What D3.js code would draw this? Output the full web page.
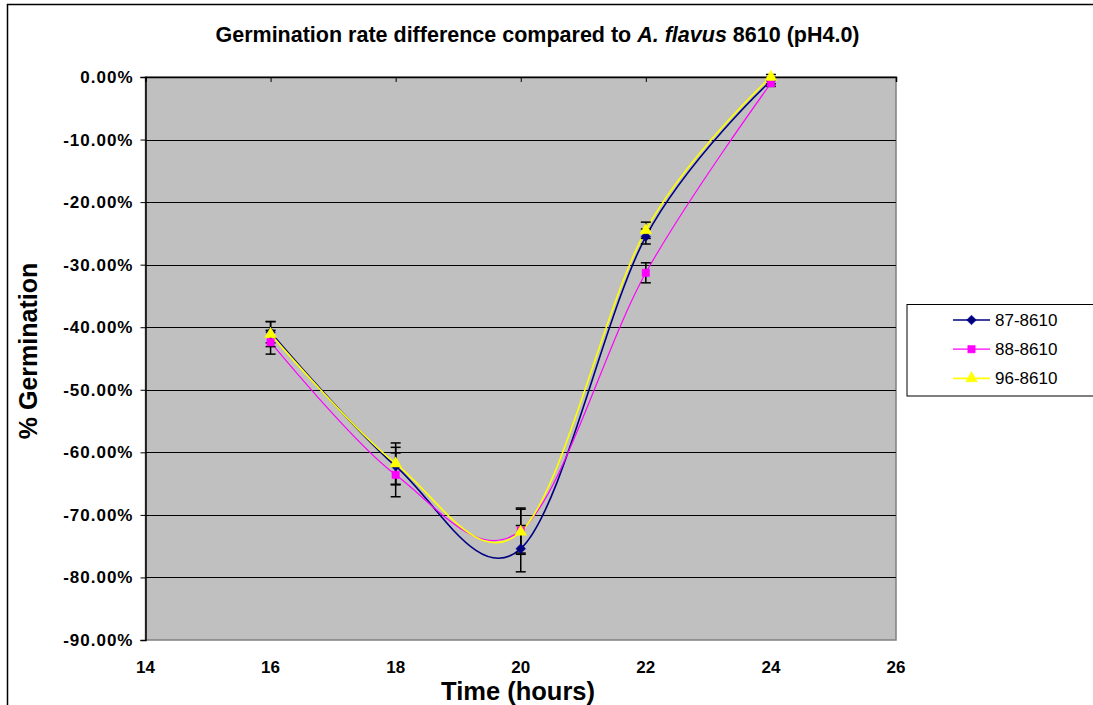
<!DOCTYPE html>
<html>
<head>
<meta charset="utf-8">
<script src="https://cdn.jsdelivr.net/npm/d3@7"></script>
<style>
  html, body { margin: 0; padding: 0; background: #fff; }
  svg { display: block; font-family: "Liberation Sans", Arial, sans-serif; }
</style>
</head>
<body>
<svg id="chart" width="1093" height="705"></svg>
<script>
// Sampling times (hours)
const hours = [16, 18, 20, 22, 24];

// Germination rate difference vs. 8610, in percent
const s87 = [-40.8, -62.2, -75.4, -25.5, -0.6];
const s88 = [-42.4, -63.6, -72.5, -31.3, -1.0];
const s96 = [-41.1, -61.8, -72.7, -24.5, 0.0];

// Error bar half-widths, in percent
const e87 = [1.7, 3.0, 3.7, 1.2, 0.5];
const e88 = [1.9, 3.5, 3.6, 1.6, 0.5];
const e96 = [2.0, 3.3, 3.6, 1.3, 0.4];

const seriesNames = ["87-8610", "88-8610", "96-8610"];
const xTicks = [14, 16, 18, 20, 22, 24, 26];
const yTicks = [0, -10, -20, -30, -40, -50, -60, -70, -80, -90];

const series = [
  { name: seriesNames[0], values: s87, errors: e87, color: "#000080", marker: "diamond", width: 1.6 },
  { name: seriesNames[1], values: s88, errors: e88, color: "#FF00FF", marker: "square", width: 1.2 },
  { name: seriesNames[2], values: s96, errors: e96, color: "#FFFF00", marker: "triangle", width: 1.6 }
];

const svg = d3.select("#chart");

// Outer chart frame
svg.append("rect")
  .attr("x", 7.5).attr("y", 4.5)
  .attr("width", 1200).attr("height", 800)
  .attr("fill", "#fff").attr("stroke", "#000").attr("stroke-width", 1.5);

const plot = { left: 145.5, top: 77, right: 896, bottom: 640 };

const x = d3.scaleLinear().domain([14, 26]).range([plot.left, plot.right]);
const y = d3.scaleLinear().domain([0, -90]).range([plot.top, plot.bottom]);

// Plot background
svg.append("rect")
  .attr("x", plot.left).attr("y", plot.top)
  .attr("width", plot.right - plot.left).attr("height", plot.bottom - plot.top)
  .attr("fill", "#C0C0C0").attr("stroke", "#808080").attr("stroke-width", 1.5);

// Horizontal gridlines
svg.append("g")
  .selectAll("line")
  .data(yTicks.filter(d => d !== 0 && d !== -90))
  .join("line")
  .attr("x1", plot.left).attr("x2", plot.right)
  .attr("y1", d => Math.round(y(d)) + 0.5).attr("y2", d => Math.round(y(d)) + 0.5)
  .attr("stroke", "#000").attr("stroke-width", 1);

// Y axis
const yAxis = svg.append("g")
  .attr("transform", `translate(${plot.left},0)`)
  .call(d3.axisLeft(y).tickValues(yTicks).tickSize(5).tickPadding(7)
    .tickFormat(d => (d < 0 ? "-" : "") + d3.format(".2f")(Math.abs(d)) + "%"));
yAxis.select(".domain").attr("stroke", "#000").attr("stroke-width", 1.5);
yAxis.selectAll(".tick line").attr("stroke", "#000");
yAxis.selectAll("text")
  .attr("font-size", 17).attr("font-weight", "bold").attr("fill", "#000")
  .attr("letter-spacing", 1)
  .attr("font-family", "'Liberation Sans', Arial, sans-serif");

// X axis line sits at y = 0 (top), labels sit below the plot
const xAxisLine = svg.append("g")
  .attr("transform", `translate(0,${plot.top})`)
  .call(d3.axisBottom(x).tickValues(xTicks).tickSize(5).tickFormat(""));
xAxisLine.select(".domain").attr("stroke", "#000").attr("stroke-width", 1.5);
xAxisLine.selectAll(".tick line").attr("stroke", "#000");

svg.append("g")
  .selectAll("text")
  .data(xTicks)
  .join("text")
  .attr("x", d => x(d))
  .attr("y", 673)
  .attr("text-anchor", "middle")
  .attr("font-size", 17).attr("font-weight", "bold")
  .text(d => d);

// Smoothed series lines
const line = d3.line()
  .x((d, i) => x(hours[i]))
  .y(d => y(d))
  .curve(d3.curveCardinal.tension(0));

series.forEach(s => {
  svg.append("path")
    .datum(s.values)
    .attr("d", line)
    .attr("fill", "none")
    .attr("stroke", s.color)
    .attr("stroke-width", s.width);
});

// Error bars
series.forEach(s => {
  const g = svg.append("g").attr("stroke", "#000").attr("stroke-width", 1.5);
  s.values.forEach((v, i) => {
    const cx = x(hours[i]);
    const y1 = y(v + s.errors[i]), y2 = y(v - s.errors[i]);
    g.append("line").attr("x1", cx).attr("x2", cx).attr("y1", y1).attr("y2", y2);
    g.append("line").attr("x1", cx - 5).attr("x2", cx + 5).attr("y1", y1).attr("y2", y1);
    g.append("line").attr("x1", cx - 5).attr("x2", cx + 5).attr("y1", y2).attr("y2", y2);
  });
});

// Markers
const markerPath = {
  diamond: d3.symbol().type(d3.symbolDiamond2).size(60),
  square: d3.symbol().type(d3.symbolSquare).size(55),
  triangle: d3.symbol().type(d3.symbolTriangle).size(60)
};

function drawMarker(g, s, cx, cy) {
  g.append("path")
    .attr("d", markerPath[s.marker]())
    .attr("transform", `translate(${cx},${cy})`)
    .attr("fill", s.color)
    .attr("stroke", s.color)
    .attr("stroke-width", 0.5);
}

series.forEach(s => {
  const g = svg.append("g");
  s.values.forEach((v, i) => drawMarker(g, s, x(hours[i]), y(v)));
});

// Title
const title = svg.append("text")
  .attr("x", 537.5).attr("y", 42)
  .attr("text-anchor", "middle")
  .attr("font-size", 21.5).attr("font-weight", "bold");
title.append("tspan").text("Germination rate difference compared to ");
title.append("tspan").attr("font-style", "italic").text("A. flavus");
title.append("tspan").text(" 8610 (pH4.0)");

// Axis titles
svg.append("text")
  .attr("x", 518).attr("y", 700)
  .attr("text-anchor", "middle")
  .attr("font-size", 25.5).attr("font-weight", "bold")
  .text("Time (hours)");

svg.append("text")
  .attr("transform", "translate(37,351) rotate(-90)")
  .attr("text-anchor", "middle")
  .attr("font-size", 25).attr("font-weight", "bold")
  .text("% Germination");

// Legend
const legend = svg.append("g");
legend.append("rect")
  .attr("x", 907).attr("y", 304.5)
  .attr("width", 200).attr("height", 91.5)
  .attr("fill", "#fff").attr("stroke", "#000").attr("stroke-width", 1);

series.forEach((s, i) => {
  const ly = 320 + i * 29.2;
  legend.append("line")
    .attr("x1", 953).attr("x2", 990)
    .attr("y1", ly).attr("y2", ly)
    .attr("stroke", s.color).attr("stroke-width", s.width);
  drawMarker(legend, s, 971.5, ly);
  legend.append("text")
    .attr("x", 995).attr("y", ly + 6)
    .attr("font-size", 17)
    .text(s.name);
});
</script>
</body>
</html>
